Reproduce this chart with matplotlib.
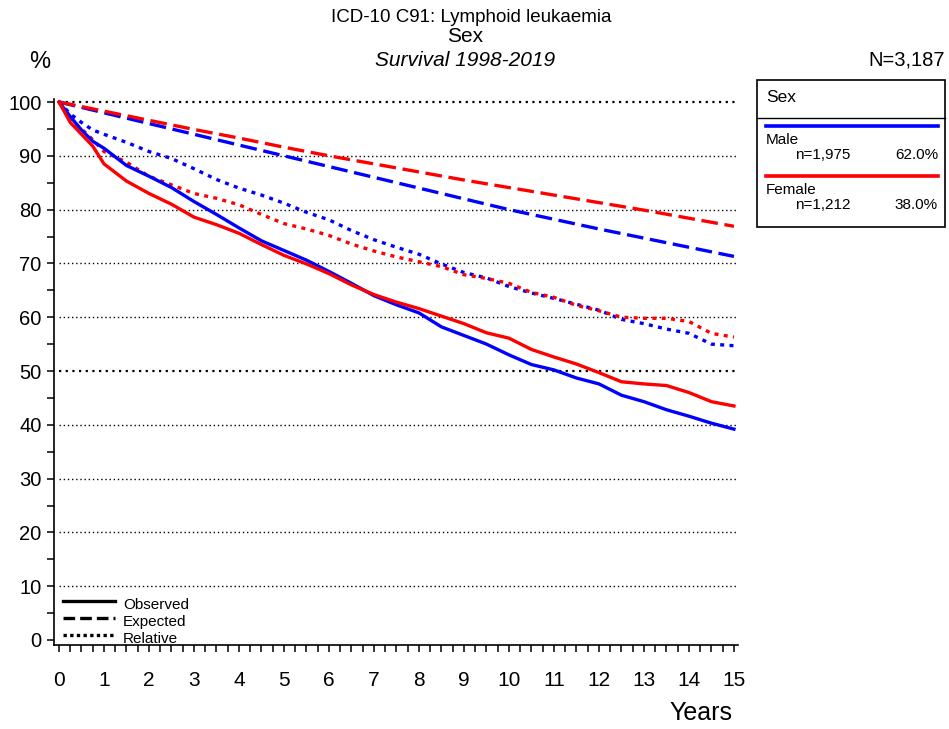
import matplotlib
matplotlib.use("Agg")
import matplotlib.pyplot as plt
from matplotlib.lines import Line2D
from matplotlib.patches import Rectangle
from matplotlib.ticker import MultipleLocator

plt.rcParams['font.family'] = ['Liberation Sans', 'DejaVu Sans']
narrow = ['Liberation Sans Narrow', 'Liberation Sans', 'DejaVu Sans']

# survival time grid (years)
t = [0, 0.25, 0.5, 0.75, 1, 1.5, 2, 2.5, 3, 3.5, 4, 4.5, 5, 5.5, 6, 6.5, 7, 7.5,
     8, 8.5, 9, 9.5, 10, 10.5, 11, 11.5, 12, 12.5, 13, 13.5, 14, 14.5, 15]

male_obs = [100, 97.3, 94.8, 92.7, 91.4, 88.2, 86.2, 84.1, 81.5, 79.1, 76.6, 74.2, 72.4,
            70.6, 68.5, 66.3, 64.0, 62.3, 60.8, 58.2, 56.6, 55.0, 53.0, 51.2, 50.2, 48.7,
            47.6, 45.5, 44.3, 42.8, 41.6, 40.3, 39.2]
female_obs = [100, 96.2, 94.0, 91.8, 88.5, 85.3, 83.0, 81.0, 78.6, 77.2, 75.6, 73.5, 71.5,
              69.9, 68.1, 66.0, 64.2, 62.8, 61.6, 60.2, 58.8, 57.1, 56.1, 54.0, 52.6, 51.3,
              49.7, 48.0, 47.6, 47.3, 46.0, 44.3, 43.5]
male_rel = [100, 97.8, 96.2, 94.8, 94.0, 92.5, 90.8, 89.5, 87.6, 85.6, 84.0, 82.7, 81.2,
            79.5, 78.1, 76.1, 74.4, 73.0, 71.7, 69.9, 68.3, 67.3, 65.7, 64.5, 63.5, 62.4,
            61.3, 59.6, 58.8, 57.8, 57.0, 55.0, 54.7]
female_rel = [100, 96.8, 95.0, 93.0, 90.8, 88.8, 86.2, 84.6, 83.0, 82.1, 80.9, 79.1, 77.4,
              76.4, 75.2, 73.6, 72.3, 71.2, 70.3, 69.4, 67.9, 67.2, 66.3, 64.6, 63.7, 62.2,
              61.2, 60.0, 59.8, 59.8, 59.2, 57.0, 56.3]

years = list(range(16))
male_exp = [100, 98.0, 96.0, 94.0, 92.0, 90.0, 88.0, 86.0, 84.0, 82.0, 80.0, 78.2, 76.4,
            74.7, 73.0, 71.3]
female_exp = [100, 98.3, 96.6, 94.9, 93.3, 91.6, 90.0, 88.5, 87.0, 85.5, 84.1, 82.7, 81.3,
              79.9, 78.4, 76.9]

groups = ["Male", "Female"]
counts = ["n=1,975", "n=1,212"]
shares = ["62.0%", "38.0%"]
colors = ["#0000ff", "#ff0000"]

fig = plt.figure(figsize=(9.49, 7.29), dpi=100)
W, H = 949.0, 729.0
ax = fig.add_axes([54 / W, 1 - 645 / H, (738 - 54) / W, (645 - 99) / H])

ax.set_xlim(-0.111, 15.09)
ax.set_ylim(-0.93, 100.56)

for v in range(10, 101, 10):
    lw = 1.6 if v in (50, 100) else 1.0
    ax.hlines(v, 0, 15.05, colors="black", linestyles=(0, (1, 2)), lw=lw, zorder=1)

lw = 2.4
ax.plot(years, male_exp, color=colors[0], lw=lw, ls=(0, (5, 2)), zorder=3)
ax.plot(years, female_exp, color=colors[1], lw=lw, ls=(0, (5, 2)), zorder=3)
ax.plot(t, male_rel, color=colors[0], lw=lw, ls=(0, (1.2, 1.6)), zorder=3)
ax.plot(t, female_rel, color=colors[1], lw=lw, ls=(0, (1.2, 1.6)), zorder=3)
ax.plot(t, male_obs, color=colors[0], lw=lw, zorder=4)
ax.plot(t, female_obs, color=colors[1], lw=lw, zorder=4)

for s in ["top", "right"]:
    ax.spines[s].set_visible(False)
ax.spines["left"].set_linewidth(1.2)
ax.spines["bottom"].set_linewidth(1.2)

ax.xaxis.set_major_locator(MultipleLocator(1))
ax.xaxis.set_minor_locator(MultipleLocator(0.25))
ax.yaxis.set_major_locator(MultipleLocator(10))
ax.yaxis.set_minor_locator(MultipleLocator(5))
ax.tick_params(axis="both", which="both", direction="out", length=5, width=1.1)
ax.tick_params(axis="y", labelsize=14.5, pad=4)
ax.tick_params(axis="x", labelsize=15, pad=14)
for lab in ax.get_xticklabels():
    lab.set_family(narrow)

# titles and axis captions
fig.text(471 / W, 1 - 17 / H, "ICD-10 C91: Lymphoid leukaemia", ha="center", va="center",
         fontsize=13.5, family=narrow)
fig.text(465 / W, 1 - 37 / H, "Sex", ha="center", va="center", fontsize=15, family=narrow)
fig.text(465 / W, 1 - 60 / H, "Survival 1998-2019", ha="center", va="center", fontsize=15,
         style="italic", family=narrow)
fig.text(945 / W, 1 - 60 / H, "N=3,187", ha="right", va="center", fontsize=14.5, family=narrow)
fig.text(40 / W, 1 - 62 / H, "%", ha="center", va="center", fontsize=17, family=narrow)
fig.text(732 / W, 1 - 713 / H, "Years", ha="right", va="center", fontsize=18, family=narrow)

# group legend box
fig.add_artist(Rectangle((757 / W, 1 - 227 / H), (945 - 757) / W, (227 - 80) / H,
                         transform=fig.transFigure, fill=False, lw=1.2, ec="black"))
fig.add_artist(Line2D([757 / W, 945 / W], [1 - 118 / H, 1 - 118 / H],
                      transform=fig.transFigure, color="black", lw=1.0))
fig.text(766 / W, 1 - 97 / H, "Sex", ha="left", va="center", fontsize=12.5)
for i in range(2):
    y0 = 126 + i * 50
    fig.add_artist(Line2D([766 / W, 938 / W], [1 - y0 / H, 1 - y0 / H],
                          transform=fig.transFigure, color=colors[i], lw=2.6))
    fig.text(766 / W, 1 - (y0 + 14) / H, groups[i], ha="left", va="center", fontsize=11)
    fig.text(795 / W, 1 - (y0 + 29) / H, counts[i], ha="left", va="center", fontsize=11)
    fig.text(938 / W, 1 - (y0 + 29) / H, shares[i], ha="right", va="center", fontsize=11)

# line style key
styles = [("-", "Observed"), ((0, (3.5, 1.5)), "Expected"), ((0, (1, 1)), "Relative")]
for i, (ls, name) in enumerate(styles):
    y0 = 601 + i * 17
    fig.add_artist(Line2D([63 / W, 115 / W], [1 - y0 / H, 1 - y0 / H],
                          transform=fig.transFigure, color="black", lw=2.4, ls=ls))
    fig.text(123 / W, 1 - (y0 + 4) / H, name, ha="left", va="center", fontsize=11)

fig.savefig("out.png", dpi=100)
